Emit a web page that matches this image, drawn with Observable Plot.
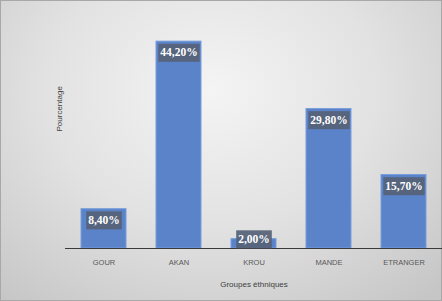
<!DOCTYPE html>
<html><head><meta charset="utf-8">
<script src="https://cdn.jsdelivr.net/npm/d3@7"></script>
<script src="https://cdn.jsdelivr.net/npm/@observablehq/plot@0.6"></script>
<style>
html,body{margin:0;padding:0;}
#wrap{position:relative;width:442px;height:301px;overflow:hidden;
background:radial-gradient(ellipse 75% 90% at 48% 30%, #f4f4f4 0%, #e2e2e2 50%, #c6c6c6 100%);
box-shadow:inset 0 0 0 1px #a8a8a8;}
#wrap svg{display:block;background:transparent;}
.vlab text{font-family:"Liberation Serif","Times New Roman",serif !important;font-weight:bold;}
</style></head><body>
<div id="wrap"></div>
<script>
const groups = ["GOUR", "AKAN", "KROU", "MANDE", "ETRANGER"];
const values = [8.4, 44.2, 2.0, 29.8, 15.7];
const labels = ["8,40%", "44,20%", "2,00%", "29,80%", "15,70%"];
const xTitle = "Groupes éthniques";
const yTitle = "Pourcentage";

const data = groups.map((g, i) => ({group: g, value: values[i], label: labels[i]}));

const chart = Plot.plot({
  width: 442, height: 301,
  marginLeft: 65, marginRight: 0, marginTop: 14, marginBottom: 53,
  style: {background: "transparent", fontFamily: "Liberation Sans, Arial, sans-serif"},
  x: {domain: groups, paddingInner: 0.404, paddingOuter: 0.202, align: 0.5, tickSize: 0, tickPadding: 11,
      label: xTitle, labelAnchor: "center", labelOffset: 38},
  y: {domain: [0, 50], axis: null},
  marks: [
    Plot.barY(data, {x: "group", y: "value", fill: "#5b83c9", stroke: "#789ddb", strokeWidth: 1}),
    Plot.ruleY([0], {stroke: "#3a3a3a", strokeWidth: 1.2}),
    Plot.text(data.filter(d => d.value > 5), {x: "group", y: "value", text: "label", dy: 11,
      fill: "white", fontWeight: "bold", fontSize: 11.5, className: "vlab"}),
    Plot.text(data.filter(d => d.value <= 5), {x: "group", y: "value", text: "label", dy: 0,
      fill: "white", fontWeight: "bold", fontSize: 11.5, className: "vlab"}),
    Plot.text([yTitle], {frameAnchor: "left", dx: -6, rotate: -90, fill: "#404040", fontSize: 8})
  ]
});
document.getElementById("wrap").appendChild(chart);

d3.select(chart).selectAll("g[aria-label='x-axis tick label'] text, g[aria-label='x-axis tick label']")
  .attr("fill", "#595959").attr("font-size", 7.5);
d3.select(chart).selectAll("g[aria-label='x-axis label']").attr("fill", "#404040").attr("font-size", 8).attr("font-weight", 500);

d3.select(chart).selectAll(".vlab text").each(function() {
  const b = this.getBBox();
  const t = this.getAttribute("transform");
  const cy = b.y + b.height / 2 + 0.5;
  const r = document.createElementNS("http://www.w3.org/2000/svg", "rect");
  r.setAttribute("x", b.x - 2); r.setAttribute("y", cy - 9);
  r.setAttribute("width", b.width + 4); r.setAttribute("height", 18);
  if (t) r.setAttribute("transform", t);
  r.setAttribute("fill", "#566277"); r.setAttribute("fill-opacity", 0.93);
  this.parentNode.insertBefore(r, this);
});
</script>
</body></html>
